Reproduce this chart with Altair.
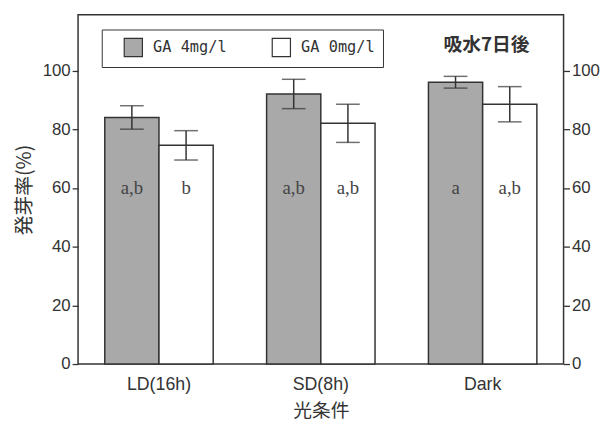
import altair as alt
import pandas as pd

conditions = ["LD(16h)", "SD(8h)", "Dark"]
treatments = ["GA 4mg/l", "GA 0mg/l"]
ga4_mean = [84, 92, 96]
ga4_err = [4, 5, 2]
ga0_mean = [74.5, 82, 88.5]
ga0_err = [5, 6.5, 6]
ga4_letters = ["a,b", "a,b", "a"]
ga0_letters = ["b", "a,b", "a,b"]
letter_level = 60
y_ticks = [0, 20, 40, 60, 80, 100]
panel_title = "吸水7日後"

rows = []
for i, c in enumerate(conditions):
    rows.append(dict(cond=c, trt=treatments[0], mean=ga4_mean[i], err=ga4_err[i], letter=ga4_letters[i]))
    rows.append(dict(cond=c, trt=treatments[1], mean=ga0_mean[i], err=ga0_err[i], letter=ga0_letters[i]))
df = pd.DataFrame(rows)
df["lo"] = df["mean"] - df["err"]
df["hi"] = df["mean"] + df["err"]
df["ly"] = letter_level

INK = "#333333"
SANS = "Liberation Sans"
CJK = "Noto Sans CJK JP"

xenc = alt.X(
    "cond:N", sort=conditions,
    scale=alt.Scale(paddingInner=0.33, paddingOuter=0.165),
    axis=alt.Axis(title="光条件", labelAngle=0, ticks=False, tickSize=0, domain=False,
                  labelFont=SANS, labelFontSize=18, labelColor=INK, labelPadding=12,
                  titleFont=CJK, titleFontSize=19, titleFontWeight="normal", titleColor=INK,
                  titlePadding=8),
)
xoff = alt.XOffset("trt:N", sort=treatments, scale=alt.Scale(paddingInner=0, paddingOuter=0))
yscale = alt.Scale(domain=[0, 119], nice=False, zero=True)

axis_common = dict(values=y_ticks, tickSize=6, tickColor=INK, tickWidth=1.3, domain=False, grid=False,
                   labelFont=SANS, labelFontSize=17, labelColor=INK, labelPadding=2)

bars = alt.Chart(df).mark_bar(stroke=INK, strokeWidth=1.5).encode(
    x=xenc, xOffset=xoff,
    y=alt.Y("mean:Q", scale=yscale,
            axis=alt.Axis(orient="left", title="発芽率(%)", titleFont=CJK, titleFontSize=20,
                          titleFontWeight="normal", titleColor=INK, titlePadding=8, **axis_common)),
    fill=alt.Fill("trt:N", sort=treatments,
                  scale=alt.Scale(domain=treatments, range=["#a9a9a9", "#ffffff"]),
                  legend=alt.Legend(orient="none", legendX=24, legendY=15, direction="horizontal",
                                    columns=2, title=None, strokeColor=INK, fillColor="white",
                                    padding=8, symbolType="square", symbolSize=340,
                                    symbolStrokeColor=INK, symbolStrokeWidth=1.2,
                                    labelFont="DejaVu Sans Mono", labelFontSize=15.5, labelColor=INK,
                                    labelOffset=10, columnPadding=31, symbolOffset=14)),
)

rules = alt.Chart(df).mark_rule(color=INK, strokeWidth=1.5).encode(
    x=xenc, xOffset=xoff,
    y=alt.Y("lo:Q", scale=yscale, axis=None), y2="hi:Q",
)
cap_lo = alt.Chart(df).mark_tick(color=INK, size=24, thickness=1.5).encode(
    x=xenc, xOffset=xoff, y=alt.Y("lo:Q", scale=yscale, axis=None),
)
cap_hi = alt.Chart(df).mark_tick(color=INK, size=24, thickness=1.5).encode(
    x=xenc, xOffset=xoff, y=alt.Y("hi:Q", scale=yscale, axis=None),
)
letters = alt.Chart(df).mark_text(font="Liberation Serif", fontSize=19, color="#444444",
                                  baseline="middle").encode(
    x=xenc, xOffset=xoff, y=alt.Y("ly:Q", scale=yscale, axis=None), text="letter:N",
)
right_axis = alt.Chart(df).mark_point(opacity=0).encode(
    y=alt.Y("mean:Q", scale=yscale, axis=alt.Axis(orient="right", title=None, **axis_common)),
)
title_text = alt.Chart(pd.DataFrame({"t": [panel_title]})).mark_text(
    font=CJK, fontSize=19, fontWeight="bold", color=INK, baseline="middle", align="center"
).encode(text="t:N", x=alt.value(414), y=alt.value(31))

chart = alt.layer(bars, rules, cap_lo, cap_hi, letters, right_axis, title_text).resolve_axis(
    y="independent"
).properties(
    width=492, height=354,
    autosize=alt.AutoSizeParams(type="none"),
    padding={"left": 71, "top": 4, "right": 43, "bottom": 61},
).configure(background="white").configure_view(stroke=INK, strokeWidth=1.5)

chart.save("out.html", embed_options={"renderer": "svg", "actions": False})
